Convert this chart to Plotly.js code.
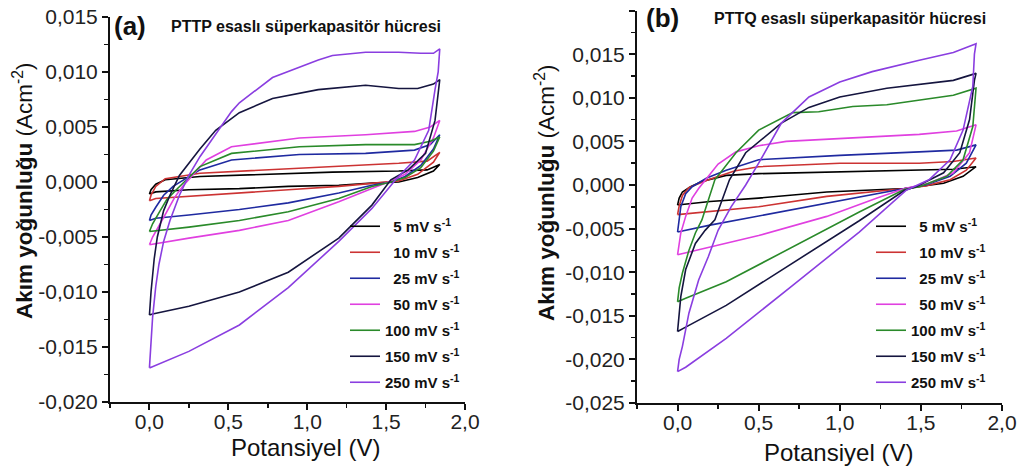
<!DOCTYPE html>
<html><head><meta charset="utf-8">
<script src="https://cdn.plot.ly/plotly-3.0.1.min.js"></script>
<style>html,body{margin:0;padding:0;background:#fff}#chart{width:1023px;height:472px}</style>
</head><body><div id="chart"></div>
<script>
// ---- labels ----
const legendLabels = ['5 mV s<sup>-1</sup>','10 mV s<sup>-1</sup>','25 mV s<sup>-1</sup>','50 mV s<sup>-1</sup>','100 mV s<sup>-1</sup>','150 mV s<sup>-1</sup>','250 mV s<sup>-1</sup>'];
const yTickValsA = [-0.020,-0.015,-0.010,-0.005,0.000,0.005,0.010,0.015];
const yTickTextA = ['-0,020','-0,015','-0,010','-0,005','0,000','0,005','0,010','0,015'];
const yTickValsB = [-0.025,-0.020,-0.015,-0.010,-0.005,0.000,0.005,0.010,0.015,0.020];
const yTickTextB = ['-0,025','-0,020','-0,015','-0,010','-0,005','0,000','0,005','0,010','0,015','0,020'];
const xTickVals = [0.0,0.5,1.0,1.5,2.0];
const xTickText = ['0,0','0,5','1,0','1,5','2,0'];

// ---- panel (a) PTTP ----
const a_V_5 = [0,0.01,0.04,0.10,0.32,0.74,1.16,1.58,1.76,1.84,1.80,1.70,1.58,1.41,1.20,0.88,0.57,0.25,0.04,0];
const a_I_5 = [-0.0011,-0.0007,-0.0002,0.0002,0.0005,0.0007,0.0009,0.0010,0.0011,0.0016,0.0010,0.0004,0.0000,-0.0001,-0.0003,-0.0004,-0.0006,-0.0007,-0.0009,-0.0011];
const a_V_10 = [0,0.01,0.04,0.10,0.32,0.74,1.16,1.58,1.76,1.84,1.80,1.70,1.58,1.41,1.20,0.88,0.57,0.25,0.04,0];
const a_I_10 = [-0.0017,-0.0012,-0.0004,0.0003,0.0008,0.0011,0.0014,0.0017,0.0019,0.0027,0.0018,0.0007,0.0001,-0.0001,-0.0004,-0.0007,-0.0010,-0.0013,-0.0015,-0.0017];
const a_V_25 = [0,0.01,0.04,0.09,0.15,0.32,0.52,0.95,1.37,1.68,1.78,1.84,1.80,1.72,1.62,1.53,1.41,1.20,0.88,0.57,0.25,0.04,0];
const a_I_25 = [-0.0035,-0.0030,-0.0023,-0.0012,-0.0004,0.0011,0.0020,0.0025,0.0026,0.0029,0.0034,0.0043,0.0030,0.0015,0.0005,0.0000,-0.0003,-0.0010,-0.0019,-0.0025,-0.0030,-0.0033,-0.0035];
const a_V_50 = [0,0.02,0.06,0.10,0.16,0.21,0.36,0.52,0.95,1.37,1.68,1.78,1.84,1.80,1.72,1.62,1.53,1.41,1.20,0.88,0.57,0.25,0.04,0];
const a_I_50 = [-0.0057,-0.0050,-0.0040,-0.0030,-0.0014,-0.0004,0.0020,0.0032,0.0040,0.0043,0.0046,0.0050,0.0056,0.0040,0.0020,0.0007,0.0001,-0.0006,-0.0018,-0.0035,-0.0044,-0.0051,-0.0056,-0.0057];
const a_V_100 = [0,0.02,0.06,0.11,0.17,0.32,0.52,0.95,1.37,1.68,1.78,1.84,1.80,1.72,1.62,1.53,1.41,1.20,0.88,0.57,0.25,0.04,0];
const a_I_100 = [-0.0045,-0.0038,-0.0028,-0.0016,-0.0007,0.0014,0.0026,0.0032,0.0034,0.0034,0.0037,0.0041,0.0028,0.0013,0.0004,0.0000,-0.0004,-0.0015,-0.0027,-0.0035,-0.0041,-0.0044,-0.0045];
const a_V_150 = [0,0.01,0.03,0.05,0.09,0.13,0.19,0.25,0.32,0.42,0.57,0.78,1.07,1.37,1.58,1.70,1.80,1.84,1.81,1.75,1.64,1.53,1.41,1.20,0.88,0.57,0.25,0.02,0];
const a_I_150 = [-0.0121,-0.0100,-0.0070,-0.0050,-0.0026,-0.0012,0.0006,0.0017,0.0030,0.0047,0.0063,0.0076,0.0084,0.0088,0.0085,0.0085,0.0089,0.0093,0.0056,0.0026,0.0011,0.0002,-0.0021,-0.0051,-0.0082,-0.0100,-0.0113,-0.0120,-0.0121];
const a_V_250 = [0,0.01,0.02,0.04,0.06,0.09,0.13,0.19,0.25,0.32,0.42,0.52,0.57,0.78,1.07,1.16,1.37,1.58,1.72,1.80,1.84,1.83,1.81,1.77,1.68,1.56,1.41,1.20,0.88,0.57,0.25,0.02,0];
const a_I_250 = [-0.0169,-0.0145,-0.0123,-0.0095,-0.0075,-0.0054,-0.0035,-0.0012,0.0006,0.0023,0.0043,0.0064,0.0072,0.0095,0.0111,0.0115,0.0118,0.0118,0.0117,0.0117,0.0121,0.0100,0.0084,0.0047,0.0020,0.0002,-0.0024,-0.0054,-0.0096,-0.0130,-0.0154,-0.0168,-0.0169];

// ---- panel (b) PTTQ ----
const b_V_5 = [0,0.01,0.03,0.08,0.15,0.30,0.50,1.00,1.49,1.70,1.84,1.76,1.64,1.49,1.40,0.92,0.50,0.20,0];
const b_I_5 = [-0.0023,-0.0015,-0.0008,-0.0002,0.0004,0.0011,0.0013,0.0015,0.0017,0.0018,0.0021,0.0010,0.0002,-0.0002,-0.0004,-0.0008,-0.0015,-0.0019,-0.0023];
const b_V_10 = [0,0.01,0.03,0.07,0.19,0.35,0.50,1.00,1.49,1.70,1.84,1.78,1.68,1.53,1.40,0.92,0.50,0.20,0];
const b_I_10 = [-0.0034,-0.0024,-0.0012,-0.0003,0.0006,0.0016,0.0021,0.0025,0.0025,0.0027,0.0031,0.0017,0.0006,-0.0001,-0.0004,-0.0013,-0.0025,-0.0030,-0.0034];
const b_V_25 = [0,0.01,0.02,0.05,0.09,0.18,0.30,0.50,1.00,1.49,1.72,1.84,1.78,1.68,1.53,1.40,0.92,0.50,0.20,0];
const b_I_25 = [-0.0054,-0.0040,-0.0025,-0.0010,-0.0002,0.0008,0.0017,0.0029,0.0034,0.0038,0.0040,0.0046,0.0025,0.0010,0.0000,-0.0004,-0.0021,-0.0036,-0.0046,-0.0054];
const b_V_50 = [0,0.02,0.05,0.09,0.13,0.17,0.25,0.36,0.50,0.67,1.08,1.49,1.72,1.84,1.80,1.70,1.55,1.40,1.23,0.92,0.50,0.20,0];
const b_I_50 = [-0.0080,-0.0055,-0.0036,-0.0015,-0.0004,0.0005,0.0024,0.0038,0.0045,0.0050,0.0054,0.0058,0.0062,0.0069,0.0037,0.0014,0.0002,-0.0004,-0.0015,-0.0036,-0.0058,-0.0071,-0.0080];
const b_V_100 = [0,0.01,0.03,0.07,0.11,0.15,0.23,0.36,0.50,0.71,0.87,1.08,1.29,1.70,1.84,1.82,1.76,1.66,1.49,1.40,1.12,0.71,0.30,0.05,0];
const b_I_100 = [-0.0134,-0.0118,-0.0101,-0.0075,-0.0055,-0.0040,0.0006,0.0037,0.0063,0.0083,0.0084,0.0090,0.0092,0.0103,0.0111,0.0067,0.0029,0.0010,-0.0002,-0.0005,-0.0031,-0.0071,-0.0111,-0.0130,-0.0134];
const b_V_150 = [0,0.01,0.02,0.05,0.11,0.17,0.23,0.32,0.42,0.64,0.81,1.00,1.29,1.70,1.84,1.83,1.80,1.74,1.64,1.47,1.40,1.12,0.71,0.30,0.05,0];
const b_I_150 = [-0.0168,-0.0150,-0.0128,-0.0097,-0.0067,-0.0052,-0.0040,0.0006,0.0037,0.0071,0.0089,0.0101,0.0111,0.0120,0.0128,0.0120,0.0075,0.0037,0.0014,-0.0002,-0.0006,-0.0041,-0.0089,-0.0138,-0.0163,-0.0168];
const b_V_250 = [0,0.01,0.03,0.07,0.13,0.19,0.25,0.33,0.42,0.50,0.64,0.81,1.00,1.20,1.49,1.70,1.84,1.83,1.82,1.76,1.68,1.55,1.41,1.12,0.71,0.30,0.05,0];
const b_I_250 = [-0.0214,-0.0200,-0.0185,-0.0147,-0.0109,-0.0082,-0.0052,-0.0025,0.0000,0.0025,0.0071,0.0101,0.0118,0.0130,0.0143,0.0152,0.0162,0.0150,0.0113,0.0063,0.0029,0.0006,-0.0006,-0.0054,-0.0115,-0.0176,-0.0209,-0.0214];

const seriesA = [[a_V_5,a_I_5],[a_V_10,a_I_10],[a_V_25,a_I_25],[a_V_50,a_I_50],[a_V_100,a_I_100],[a_V_150,a_I_150],[a_V_250,a_I_250]];
const seriesB = [[b_V_5,b_I_5],[b_V_10,b_I_10],[b_V_25,b_I_25],[b_V_50,b_I_50],[b_V_100,b_I_100],[b_V_150,b_I_150],[b_V_250,b_I_250]];
const lineColors = ['#000000','#cc3333','#1f2aa0','#e040e0','#2a8a2a','#15153f','#8a3ee0'];
const pad = ['\u00a0\u00a0','\u00a0\u00a0','\u00a0\u00a0','\u00a0\u00a0','','',''];

const FONT = 'Liberation Sans, Arial, sans-serif';
const traces = [];
seriesA.forEach((s,i)=>traces.push({type:'scatter',mode:'lines',x:s[0],y:s[1],xaxis:'x',yaxis:'y',
  name:pad[i]+legendLabels[i],legendgroup:'a'+i,legend:'legend',line:{color:lineColors[i],width:1.6}}));
seriesB.forEach((s,i)=>traces.push({type:'scatter',mode:'lines',x:s[0],y:s[1],xaxis:'x2',yaxis:'y2',
  name:pad[i]+legendLabels[i],legendgroup:'b'+i,legend:'legend2',line:{color:lineColors[i],width:1.6}}));

const W=1023,H=472;
const px = v=>v/W, py = v=>(H-v)/H;
function xax(dom, anchor){return {domain:dom,anchor:anchor,range:[-0.25,2.0],tickmode:'array',tickvals:xTickVals,ticktext:xTickText,
  ticks:'outside',ticklen:6,tickwidth:2,tickcolor:'#111',showline:true,linewidth:2,linecolor:'#111',showgrid:false,zeroline:false,ticklabelstandoff:-6,
  tickfont:{family:FONT,size:21,color:'#222'},minor:{dtick:0.25,tick0:0,ticks:'outside',ticklen:4,tickwidth:1.5,tickcolor:'#111',showgrid:false}};}
function yax(dom, anchor, rng, tv, tt){return {domain:dom,anchor:anchor,range:rng,tickmode:'array',tickvals:tv,ticktext:tt,
  ticks:'outside',ticklen:6,tickwidth:2,tickcolor:'#111',showline:true,linewidth:2,linecolor:'#111',showgrid:false,zeroline:false,
  tickfont:{family:FONT,size:21,color:'#222'},minor:{dtick:0.0025,tick0:0,ticks:'outside',ticklen:4,tickwidth:1.5,tickcolor:'#111',showgrid:false}};}

const ytitle = 'Akım yoğunluğu <span style="font-weight:normal">(Acm<sup>-2</sup>)</span>';
function ann(text,x,y,size,angle){return {text:text,x:px(x),y:py(y),xref:'paper',yref:'paper',xanchor:'center',yanchor:'middle',
  showarrow:false,textangle:angle||0,font:{family:FONT,size:size,color:'#111'}};}
const layout = {
  width:W,height:H,margin:{l:0,r:0,t:0,b:0},paper_bgcolor:'#fff',plot_bgcolor:'rgba(0,0,0,0)',
  xaxis:xax([px(110),px(465)],'y'),
  yaxis:yax([py(402),py(17)],'x',[-0.020,0.015],yTickValsA,yTickTextA),
  xaxis2:xax([px(637),px(1002)],'y2'),
  yaxis2:yax([py(403),py(10.6)],'x2',[-0.025,0.020],yTickValsB,yTickTextB),
  showlegend:true,
  legend:{x:px(345),y:py(210),xanchor:'left',yanchor:'top',bgcolor:'rgba(0,0,0,0)',font:{family:FONT,size:15,color:'#111',weight:'bold'},traceorder:'grouped',tracegroupgap:3.5,itemwidth:30},
  legend2:{x:px(871),y:py(210),xanchor:'left',yanchor:'top',bgcolor:'rgba(0,0,0,0)',font:{family:FONT,size:15,color:'#111',weight:'bold'},traceorder:'grouped',tracegroupgap:3.5,itemwidth:30},
  annotations:[
    ann('<b>'+ytitle+'</b>',23,191,22.5,-90),
    ann('<b>'+ytitle+'</b>',545,193,22.5,-90),
    ann('Potansiyel (V)',305,447,24),
    ann('Potansiyel (V)',838,452,24),
    ann('<b>(a)</b>',130,26,26),
    ann('<b>(b)</b>',662,18,26),
    ann('<b>PTTP esaslı süperkapasitör hücresi</b>',306,27,16),
    ann('<b>PTTQ esaslı süperkapasitör hücresi</b>',850,18,16)
  ]
};
Plotly.newPlot('chart',traces,layout,{staticPlot:true,displayModeBar:false});
</script></body></html>
